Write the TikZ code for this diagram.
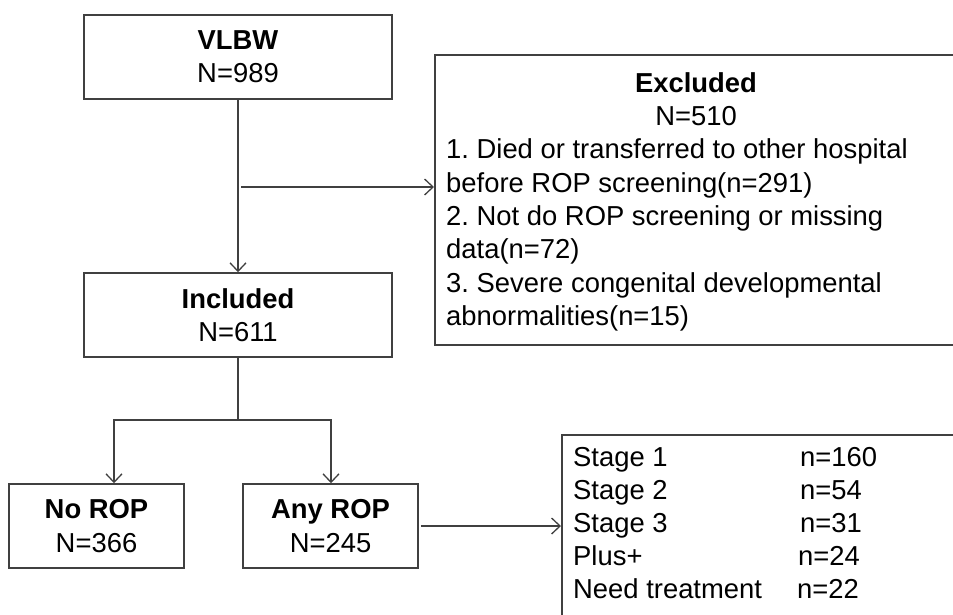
\documentclass[tikz,border=0pt]{standalone}
\usepackage{fontspec}
\setmainfont{Liberation Sans}
\usetikzlibrary{arrows.meta}
\definecolor{linec}{HTML}{404040}
\newcommand{\fsz}{\fontsize{27.4pt}{33.3pt}\selectfont}
\frenchspacing
\begin{document}
\begin{tikzpicture}[x=1pt,y=-1pt,
  box/.style={draw=linec, line width=1.5pt, rectangle, inner sep=0pt, align=center, font=\fsz},
  bigbox/.style={draw=linec, line width=1.5pt, rectangle, inner sep=0pt, anchor=north west},
  txt/.style={anchor=base west, inner sep=0pt, font=\fsz},
  ttl/.style={anchor=base, inner sep=0pt, font=\fsz},
  line/.style={draw=linec, line width=1.5pt},
  tip/.tip={Straight Barb[length=8.5pt,width=16pt,line width=1.3pt]},
  conn/.style={line, -tip},
  conn2/.style={line, tip-tip}]
\useasboundingbox (0,0) rectangle (953,614);
\node[box, minimum width=308pt, minimum height=84pt] (vlbw) at (238,57) {\textbf{VLBW}\\N=989};
\node[box, minimum width=308pt, minimum height=84pt] (incl) at (238,315) {\textbf{Included}\\N=611};
\node[box, minimum width=175pt, minimum height=84pt] (norop) at (96.5,526) {\textbf{No ROP}\\N=366};
\node[box, minimum width=175pt, minimum height=84pt] (anyrop) at (330.5,526) {\textbf{Any ROP}\\N=245};
\node[bigbox, minimum width=600pt, minimum height=290pt] (excl) at (434,54) {};
\node[bigbox, minimum width=500pt, minimum height=250pt] (stage) at (561,434) {};
% excluded text
\node[ttl] (et) at (696,92) {\textbf{Excluded}};
\node[ttl] (en) at (696,125) {N=510};
\node[txt] (e1) at (446,158) {1. Died or transferred to other hospital};
\node[txt] (e2) at (446,192) {before ROP screening(n=291)};
\node[txt] (e3) at (446,225) {2. Not do ROP screening or missing};
\node[txt] (e4) at (446,258) {data(n=72)};
\node[txt] (e5) at (446,292) {3. Severe congenital developmental};
\node[txt] (e6) at (446,325) {abnormalities(n=15)};
% stage text
\node[txt] (s1) at (573,466) {Stage 1};
\node[txt] (s2) at (573,499) {Stage 2};
\node[txt] (s3) at (573,532) {Stage 3};
\node[txt] (s4) at (573,565) {Plus+};
\node[txt] (s5) at (573,598) {Need treatment};
\node[txt] (n1) at (800,466) {n=160};
\node[txt] (n2) at (800,499) {n=54};
\node[txt] (n3) at (800,532) {n=31};
\node[txt] (n4) at (798,565) {n=24};
\node[txt] (n5) at (797,598) {n=22};
% connectors
\draw[conn] (vlbw) -- (incl);
\coordinate (j1) at (241,187);
\draw[conn] (j1) -- (j1 -| excl.west);
\coordinate (bl) at (114,420);
\coordinate (br) at (331,420);
\draw[line] (incl.south) -- (incl.south |- bl);
\draw[conn2] (bl |- norop.north) -- (bl) -- (br) -- (br |- anyrop.north);
\draw[conn] (anyrop.east) ++(2,0) -- (stage.west |- anyrop.east);
\end{tikzpicture}
\end{document}
